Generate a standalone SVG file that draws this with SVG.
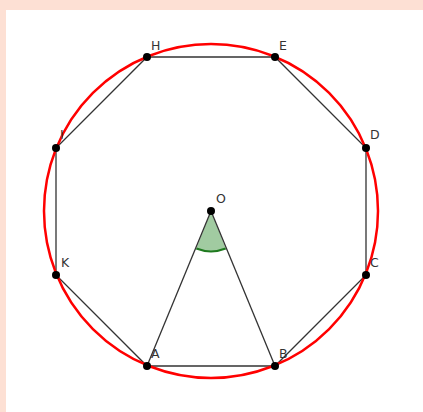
<svg xmlns="http://www.w3.org/2000/svg" width="423" height="412" viewBox="0 0 423 412">
<style>
.seg{stroke:#333;stroke-width:1.3;fill:none}
.pt{fill:#000}
.lb{font-family:"DejaVu Sans","Liberation Sans",sans-serif;font-size:12.5px;fill:#333}
</style>
<rect x="0" y="0" width="423" height="412" fill="#fde0d4"/>
<rect x="6" y="10" width="417" height="402" fill="#fff"/>
<g id="angle">
<path d="M211,211 L196.3,248.5 A40,40 0 0 0 225.7,248.5 Z" fill="#2e8b2e" fill-opacity="0.45" stroke="none"/>
<path d="M196.3,248.5 A40,40 0 0 0 225.7,248.5" fill="none" stroke="#1f7a1f" stroke-width="2"/>
</g>
<g id="connectors">
<polygon class="seg" points="147,57 275,57 366,148 366,275 275,366 147,366 56,275 56,148"/>
<line class="seg" x1="211" y1="211" x2="147" y2="366"/>
<line class="seg" x1="211" y1="211" x2="275" y2="366"/>
</g>
<g id="circle"><circle cx="211" cy="211" r="167" fill="none" stroke="#ff0000" stroke-width="2.5"/></g>
<g id="H"><circle class="pt" cx="147" cy="57" r="4"/><text class="lb" x="151" y="50">H</text></g>
<g id="E"><circle class="pt" cx="275" cy="57" r="4"/><text class="lb" x="279" y="50">E</text></g>
<g id="D"><circle class="pt" cx="366" cy="148" r="4"/><text class="lb" x="370" y="139">D</text></g>
<g id="C"><circle class="pt" cx="366" cy="275" r="4"/><text class="lb" x="370" y="267">C</text></g>
<g id="B"><circle class="pt" cx="275" cy="366" r="4"/><text class="lb" x="279" y="358">B</text></g>
<g id="A"><circle class="pt" cx="147" cy="366" r="4"/><text class="lb" x="151" y="358">A</text></g>
<g id="K"><circle class="pt" cx="56" cy="275" r="4"/><text class="lb" x="61" y="267">K</text></g>
<g id="I"><circle class="pt" cx="56" cy="148" r="4"/><text class="lb" x="60" y="139">I</text></g>
<g id="O"><circle class="pt" cx="211" cy="211" r="4"/><text class="lb" x="216" y="203">O</text></g>
</svg>
